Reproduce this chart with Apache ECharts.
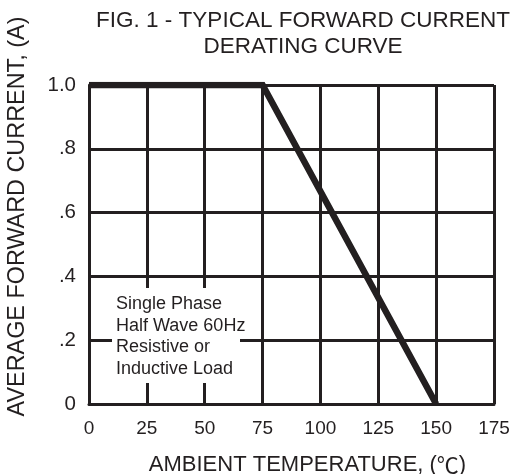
<!DOCTYPE html>
<html>
<head>
<meta charset="utf-8">
<script src="https://cdn.jsdelivr.net/npm/echarts@6/dist/echarts.min.js"></script>
<style>
html,body{margin:0;padding:0;background:#fff;}
#chart{width:531px;height:474px;}
</style>
</head>
<body>
<div id="chart"></div>
<script>
// Data
const temperature = [0, 75, 150];
const current = [1.0, 1.0, 0];
const xTicks = [0, 25, 50, 75, 100, 125, 150, 175];
const yTickLabels = {'0': '0', '0.2': '.2', '0.4': '.4', '0.6': '.6', '0.8': '.8', '1': '1.0'};
const titleLines = ['FIG. 1 - TYPICAL FORWARD CURRENT', 'DERATING CURVE'];
const noteLines = ['Single Phase', 'Half Wave 60Hz', 'Resistive or', 'Inductive Load'];
const xTitle = 'AMBIENT TEMPERATURE, ({c|\u2103})';
const yTitle = 'AVERAGE FORWARD CURRENT, (A)';

const ink = '#231f20';
const font = 'Liberation Sans, Arial, sans-serif';

const chart = echarts.init(document.getElementById('chart'));
chart.setOption({
  animation: false,
  backgroundColor: '#fff',
  grid: {left: 89, right: 37, top: 85, bottom: 70, containLabel: false, outerBoundsMode: 'none'},
  xAxis: {
    type: 'value', min: 0, max: 175, interval: 25,
    axisLine: {show: true, lineStyle: {color: ink, width: 3}},
    axisTick: {show: false},
    splitLine: {show: true, lineStyle: {color: ink, width: 3}},
    axisLabel: {color: ink, fontSize: 19, fontFamily: font, margin: 15},
    name: xTitle, nameLocation: 'middle', nameGap: 50,
    nameTextStyle: {color: ink, fontSize: 22, fontFamily: font, padding: [0, 0, 0, 32],
      rich: {c: {fontSize: 22, fontFamily: 'Noto Sans CJK JP', color: ink}}}
  },
  yAxis: {
    type: 'value', min: 0, max: 1, interval: 0.2,
    axisLine: {show: true, lineStyle: {color: ink, width: 3}},
    axisTick: {show: false},
    splitLine: {show: true, lineStyle: {color: ink, width: 3}},
    axisLabel: {color: ink, fontSize: 20.5, fontFamily: font, margin: 13, padding: [9, 0, 0, 0],
      formatter: v => yTickLabels[String(+v.toFixed(1))] ?? v},
    name: yTitle, nameLocation: 'middle', nameGap: 60, nameRotate: 90,
    nameTextStyle: {color: ink, fontSize: 23.4, fontFamily: font, padding: [0, 0, 0, 56]}
  },
  series: [{
    type: 'line', data: temperature.map((t, i) => [t, current[i]]),
    symbol: 'none', lineStyle: {color: ink, width: 6.5, cap: 'butt', join: 'miter'}, z: 5
  }],
  graphic: [
    {type: 'text', x: 303, y: 8, style: {text: titleLines.join('\n'),
      fill: ink, font: '22.5px ' + font, align: 'center', lineHeight: 26}, z: 10},
    {type: 'rect', shape: {x: 112, y: 288, width: 128, height: 95}, style: {fill: '#fff'}, z: 20},
    {type: 'text', x: 116, y: 293, style: {text: noteLines.join('\n'), fill: ink,
      font: '18px ' + font, lineHeight: 21.7}, z: 21}
  ]
});
</script>
</body>
</html>
